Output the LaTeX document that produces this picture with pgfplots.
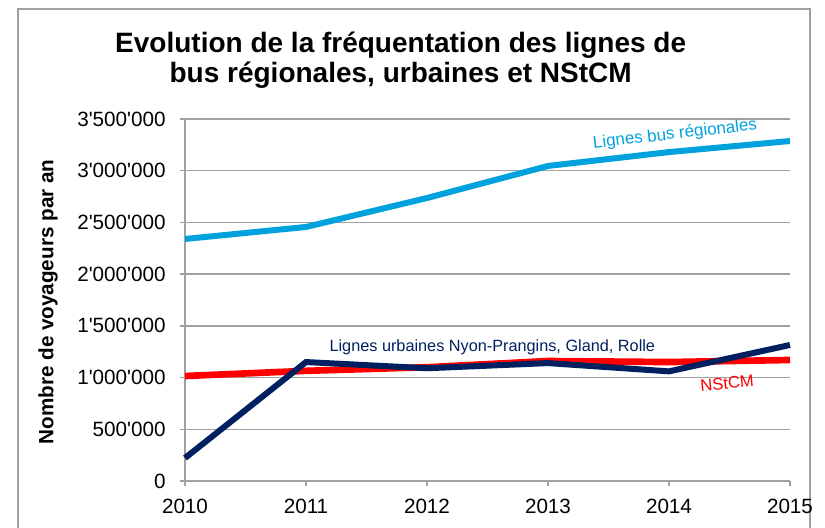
\documentclass[border=0pt]{standalone}
\usepackage{fontspec}
\setmainfont{Liberation Sans}
\newfontfamily\plain{Liberation Sans}
\usepackage{pgfplots}
\pgfplotsset{compat=1.18}
\definecolor{regblue}{HTML}{00A2DE}
\definecolor{urbnavy}{HTML}{002060}
\definecolor{nstred}{HTML}{FF0000}
\definecolor{axgray}{HTML}{A0A0A0}
\begin{document}
\begin{tikzpicture}
\useasboundingbox (0,0) rectangle (618.75pt,396pt);
\draw[axgray, line width=1.3pt] (13.5pt,-5pt) -- (13.5pt,389.5pt) -- (607.5pt,389.5pt) -- (607.5pt,-5pt);
\node[font=\bfseries\fontsize{21}{22.5}\selectfont, align=center] at (300.5pt,350.5pt)
  {Evolution de la fréquentation des lignes de\\bus régionales, urbaines et NStCM};
\node[rotate=90, font=\bfseries\fontsize{15.5}{18}\selectfont] at (36pt,169.5pt) {Nombre de voyageurs par an};
\begin{axis}[
  at={(138.75pt,35.25pt)}, anchor=south west,
  scale only axis, width=453.75pt, height=271.5pt,
  xmin=2010, xmax=2015, ymin=0, ymax=3500000,
  scaled y ticks=false,
  axis lines*=left,
  axis line style={axgray, line width=1pt},
  xtick={2010,2011,2012,2013,2014,2015},
  xticklabels={2010,2011,2012,2013,2014,2015},
  ytick={0,500000,1000000,1500000,2000000,2500000,3000000,3500000},
  yticklabels={0,500'000,1'000'000,1'500'000,2'000'000,2'500'000,3'000'000,3'500'000},
  ticklabel style={font=\plain\fontsize{15.5}{18}\selectfont},
  yticklabel style={xshift=-7pt},
  xticklabel style={yshift=-6pt},
  tick align=outside,
  major tick length=4pt,
  tick style={axgray, line width=1pt},
  ymajorgrids,
  major grid style={axgray, line width=1pt},
  clip=false,
]
\addplot[nstred, line width=5pt] coordinates {(2010,1015000) (2011,1065000) (2012,1100000) (2013,1160000) (2014,1150000) (2015,1170000)};
\addplot[regblue, line width=4.5pt] coordinates {(2010,2340000) (2011,2456000) (2012,2736000) (2013,3046000) (2014,3180000) (2015,3287000)};
\addplot[urbnavy, line width=4.5pt] coordinates {(2010,222000) (2011,1150000) (2012,1090000) (2013,1140000) (2014,1060000) (2015,1315000)};
\node[regblue, rotate=6.5, font=\fontsize{12.7}{15}\selectfont] at (axis cs:2014.05,3350000) {Lignes bus régionales};
\node[urbnavy, font=\fontsize{12.2}{15}\selectfont] at (axis cs:2012.54,1296000) {Lignes urbaines Nyon-Prangins, Gland, Rolle};
\node[nstred, rotate=5, font=\fontsize{12.5}{15}\selectfont] at (axis cs:2014.48,947000) {NStCM};
\end{axis}
\end{tikzpicture}
\end{document}
